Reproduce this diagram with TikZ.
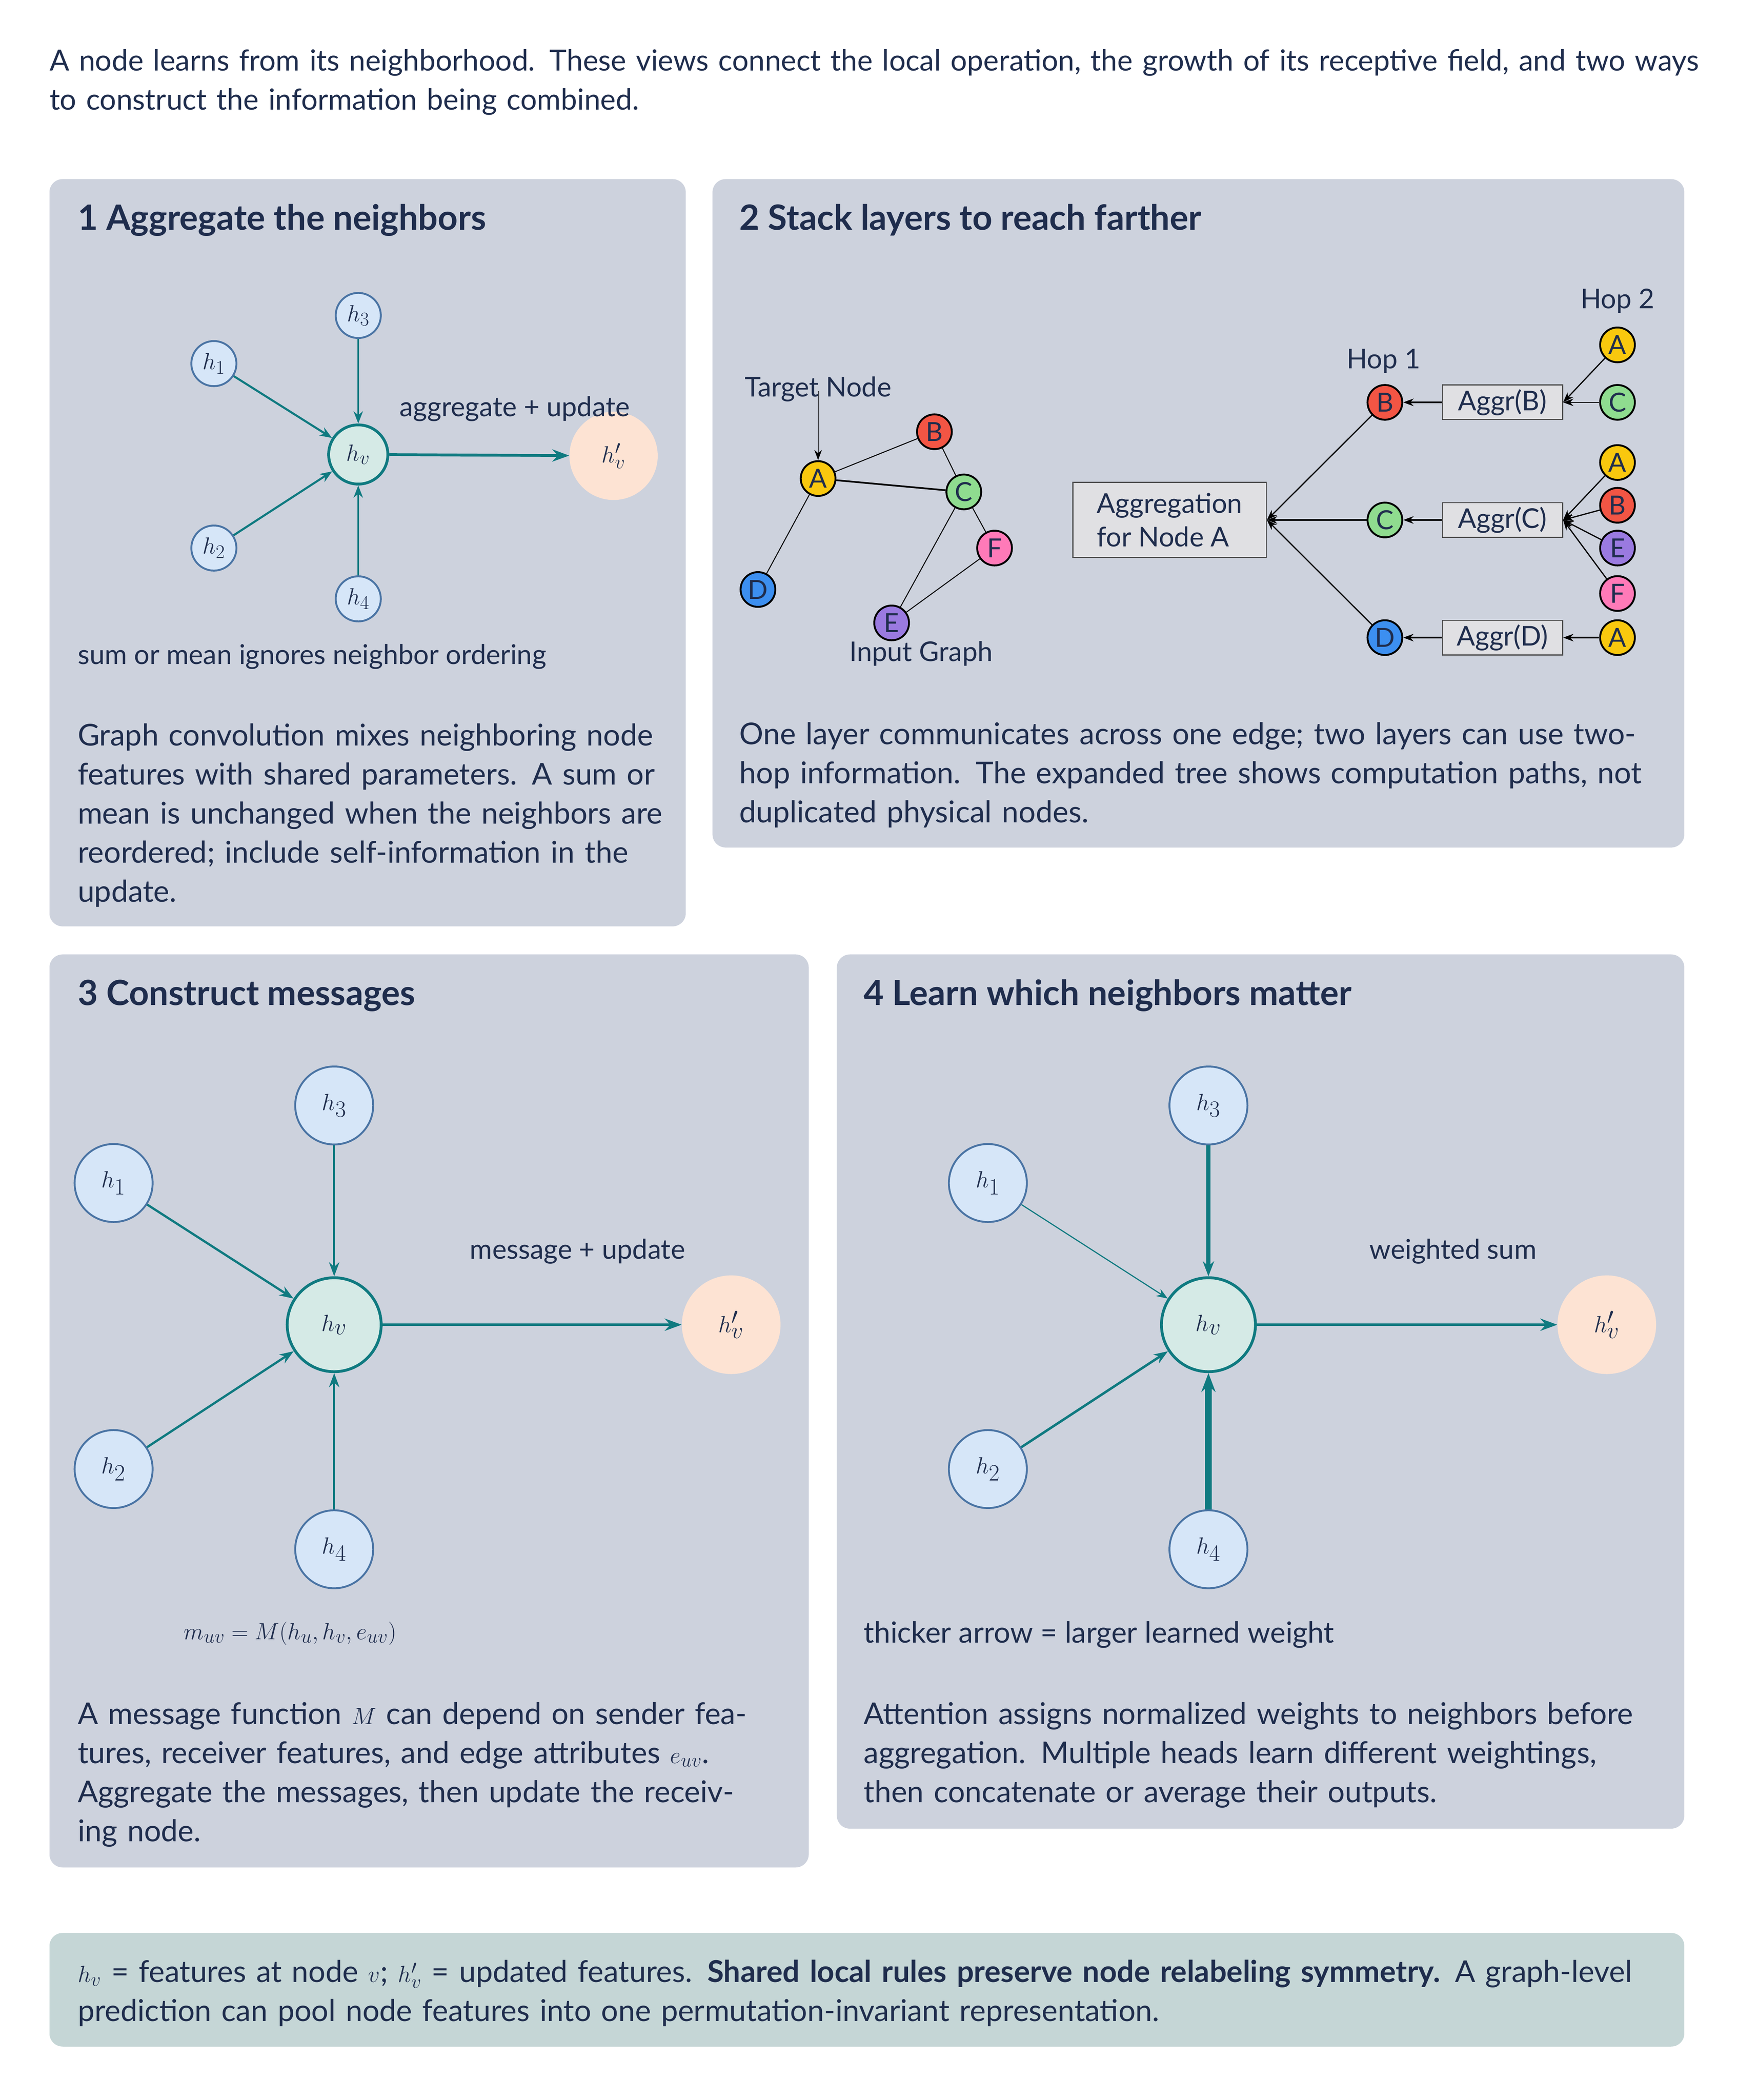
\documentclass[tikz,border=0pt]{standalone}
\usepackage{fontspec}
\setmainfont{Lato}
\usepackage{tikz}
\usetikzlibrary{arrows.meta}

\definecolor{ink}{HTML}{1F2D4D}
\definecolor{panel}{HTML}{CDD2DD}
\definecolor{note}{HTML}{C5D6D6}
\definecolor{teal}{HTML}{0F7A80}
\definecolor{nbfill}{HTML}{D6E6F8}
\definecolor{nbdraw}{HTML}{4A74A4}
\definecolor{hvfill}{HTML}{D5EAE6}
\definecolor{outfill}{HTML}{FDE3D3}
\definecolor{boxfill}{HTML}{E0E0E3}
\definecolor{cA}{HTML}{F9C80E}
\definecolor{cB}{HTML}{F25544}
\definecolor{cC}{HTML}{8FDC8F}
\definecolor{cD}{HTML}{3C8FF0}
\definecolor{cE}{HTML}{9A7AE0}
\definecolor{cF}{HTML}{FF7AB8}

\tikzset{
  card/.style={fill=panel, rounded corners=14pt, draw=none},
  title/.style={anchor=base west, font=\fontsize{37}{44}\selectfont\bfseries, text=ink, inner sep=0},
  body/.style={anchor=base west, align=left, font=\fontsize{32}{41.5}\selectfont, text=ink, inner sep=0},
  lbl/.style={font=\fontsize{29}{34}\selectfont, text=ink, inner sep=0},
  nb/.style={circle, fill=nbfill, draw=nbdraw, line width=2pt, inner sep=0, text=ink},
  ctr/.style={circle, fill=hvfill, draw=teal, line width=3pt, inner sep=0, text=ink},
  upd/.style={circle, fill=outfill, inner sep=0, text=ink},
  gn/.style={circle, draw=black, line width=2pt, minimum size=37pt, inner sep=0, text=ink, font=\fontsize{28}{30}\selectfont},
  agbox/.style={draw=black!70, fill=boxfill, line width=1pt, text=ink, font=\fontsize{29}{36}\selectfont},
  msg/.style={draw=teal, line width=3pt, -{Stealth[length=18pt,width=13pt]}},
  tree/.style={draw=black, line width=1.3pt, -{Stealth[length=11pt,width=8pt]}},
}

\begin{document}
\begin{tikzpicture}[x=0.05cm, y=-0.05cm]
    \useasboundingbox (0,0) rectangle (1300,1571);

    % intro text
    \node[body, font=\fontsize{31}{41.5}\selectfont, text width=1240*1.4226pt] (intro) at (37,53)
      {A node learns from its neighborhood. These views connect the local operation, the growth of its receptive field, and two ways to construct the information being combined.};

    % panels
    \fill[card] (37,134) rectangle (513,693);
    \fill[card] (533,134) rectangle (1260,634);
    \fill[card] (37,714) rectangle (605,1397);
    \fill[card] (626,714) rectangle (1260,1368);
    \fill[note, rounded corners=14pt] (37,1446) rectangle (1260,1531);

    % panel 1
    \node[title] (t1) at (58,172) {1 Aggregate the neighbors};
    \begin{scope}[every node/.append style={font=\fontsize{28}{30}\selectfont}]
    \node[nb, minimum size=48pt] (a1) at (160,272) {$h_1$};
    \node[nb, minimum size=48pt] (a3) at (268,236) {$h_3$};
    \node[nb, minimum size=48pt] (a2) at (160,410) {$h_2$};
    \node[nb, minimum size=48pt] (a4) at (268,448) {$h_4$};
    \node[ctr, minimum size=63pt] (av) at (268,340) {$h_v$};
    \node[upd, minimum size=94pt] (ao) at (459,341) {$h'_v$};
    \end{scope}
    \foreach \n in {a1,a2,a3,a4} \draw[msg, line width=2.2pt, -{Stealth[length=13pt,width=10pt]}] (\n) -- (av);
    \draw[msg] (av) -- (ao);
    \node[lbl] (l1) at (385,306) {aggregate + update};
    \node[lbl, anchor=base west] (s1) at (58,497) {sum or mean ignores neighbor ordering};
    \node[body, text width=445*1.4226pt] (b1) at (58,558)
      {Graph convolution mixes neighboring node features with shared parameters. A sum or mean is unchanged when the neighbors are reordered; include self-information in the update.};

    % panel 2
    \node[title] (t2) at (553,172) {2 Stack layers to reach farther};
    \node[gn, fill=cA] (gA) at (612,358) {A};
    \node[gn, fill=cB] (gB) at (699,323) {B};
    \node[gn, fill=cC] (gC) at (721,368) {C};
    \node[gn, fill=cF] (gF) at (744,410) {F};
    \node[gn, fill=cE] (gE) at (667,466) {E};
    \node[gn, fill=cD] (gD) at (567,441) {D};
    \draw[line width=1pt] (gA) -- (gB) (gA) -- (gD) (gB) -- (gC) (gC) -- (gF) (gC) -- (gE) (gE) -- (gF);
    \draw[line width=1.8pt] (gA) -- (gC);
    \node[lbl] (tn) at (612,291) {Target Node};
    \draw[tree, line width=1pt] (tn.south) ++(0,-8) -- (gA);
    \node[lbl] (ig) at (689,489) {Input Graph};

    \node[agbox, minimum width=206pt, minimum height=80pt, align=left] (agg) at (875,389) {Aggregation\\for Node A};
    \node[lbl] (hop1) at (1035,270) {Hop 1};
    \node[lbl] (hop2) at (1210,225) {Hop 2};
    \node[gn, fill=cB] (hB) at (1036,301) {B};
    \node[gn, fill=cC] (hC) at (1036,389) {C};
    \node[gn, fill=cD] (hD) at (1036,477) {D};
    \node[agbox, minimum width=128pt, minimum height=37pt, inner sep=2pt] (xB) at (1124,301) {Aggr(B)};
    \node[agbox, minimum width=128pt, minimum height=37pt, inner sep=2pt] (xC) at (1124,389) {Aggr(C)};
    \node[agbox, minimum width=128pt, minimum height=37pt, inner sep=2pt] (xD) at (1124,477) {Aggr(D)};
    \node[gn, fill=cA] (kBA) at (1210,258) {A};
    \node[gn, fill=cC] (kBC) at (1210,301) {C};
    \node[gn, fill=cA] (kCA) at (1210,346) {A};
    \node[gn, fill=cB] (kCB) at (1210,378) {B};
    \node[gn, fill=cE] (kCE) at (1210,410) {E};
    \node[gn, fill=cF] (kCF) at (1210,444) {F};
    \node[gn, fill=cA] (kDA) at (1210,477) {A};
    \draw[tree] (hB) -- (agg.east);
    \draw[tree, line width=1.8pt] (hC) -- (agg.east);
    \draw[tree] (hD) -- (agg.east);
    \foreach \a/\b in {xB/hB, xC/hC, xD/hD} \draw[tree, line width=1.8pt] (\a) -- (\b);
    \foreach \k in {kBA,kBC} \draw[tree] (\k) -- (xB.east);
    \foreach \k in {kCA,kCB,kCE,kCF} \draw[tree] (\k) -- (xC.east);
    \draw[tree, line width=1.8pt] (kDA) -- (xD);
    \node[body, text width=700*1.4226pt] (b2) at (553,557)
      {One layer communicates across one edge; two layers can use two-hop information. The expanded tree shows computation paths, not duplicated physical nodes.};

    % panel 3
    \node[title] (t3) at (58,752) {3 Construct messages};
    \begin{scope}[every node/.append style={font=\fontsize{33}{36}\selectfont}]
    \node[nb, minimum size=83pt] (m1) at (85,885) {$h_1$};
    \node[nb, minimum size=83pt] (m3) at (250,827) {$h_3$};
    \node[nb, minimum size=83pt] (m2) at (85,1099) {$h_2$};
    \node[nb, minimum size=83pt] (m4) at (250,1159) {$h_4$};
    \node[ctr, minimum size=100pt] (mv) at (250,991) {$h_v$};
    \node[upd, minimum size=105pt] (mo) at (547,991) {$h'_v$};
    \end{scope}
    \foreach \n in {m1,m2,m3,m4} \draw[msg, line width=2.4pt, -{Stealth[length=15pt,width=11pt]}] (\n) -- (mv);
    \draw[msg] (mv) -- (mo);
    \node[lbl] (l3) at (432,936) {message + update};
    \node[lbl, font=\fontsize{31}{34}\selectfont] (f3) at (217,1222) {$m_{uv}=M(h_u,h_v,e_{uv})$};
    \node[body, text width=510*1.4226pt] (b3) at (58,1290)
      {A message function $M$ can depend on sender features, receiver features, and edge attributes $e_{uv}$. Aggregate the messages, then update the receiving node.};

    % panel 4
    \node[title] (t4) at (646,752) {4 Learn which neighbors matter};
    \begin{scope}[every node/.append style={font=\fontsize{33}{36}\selectfont}]
    \node[nb, minimum size=83pt] (w1) at (739,885) {$h_1$};
    \node[nb, minimum size=83pt] (w3) at (904,827) {$h_3$};
    \node[nb, minimum size=83pt] (w2) at (739,1099) {$h_2$};
    \node[nb, minimum size=83pt] (w4) at (904,1159) {$h_4$};
    \node[ctr, minimum size=100pt] (wv) at (904,991) {$h_v$};
    \node[upd, minimum size=105pt] (wo) at (1202,991) {$h'_v$};
    \end{scope}
    \draw[msg, line width=1.2pt, -{Stealth[length=12pt,width=9pt]}] (w1) -- (wv);
    \draw[msg, line width=2.6pt, -{Stealth[length=15pt,width=11pt]}] (w2) -- (wv);
    \draw[msg, line width=4.2pt, -{Stealth[length=16pt,width=12pt]}] (w3) -- (wv);
    \draw[msg, line width=7pt, -{Stealth[length=20pt,width=15pt]}] (w4) -- (wv);
    \draw[msg] (wv) -- (wo);
    \node[lbl] (l4) at (1087,936) {weighted sum};
    \node[lbl, anchor=base west, font=\fontsize{31}{34}\selectfont] (s4) at (646,1229) {thicker arrow = larger learned weight};
    \node[body, text width=600*1.4226pt] (b4) at (646,1290)
      {Attention assigns normalized weights to neighbors before aggregation. Multiple heads learn different weightings, then concatenate or average their outputs.};

    % footer
    \node[body, text width=1190*1.4226pt] (foot) at (58,1483)
      {$h_v$ = features at node $v$; $h'_v$ = updated features. \textbf{Shared local rules preserve node relabeling symmetry.} A graph-level prediction can pool node features into one permutation-invariant representation.};
\end{tikzpicture}
\end{document}
